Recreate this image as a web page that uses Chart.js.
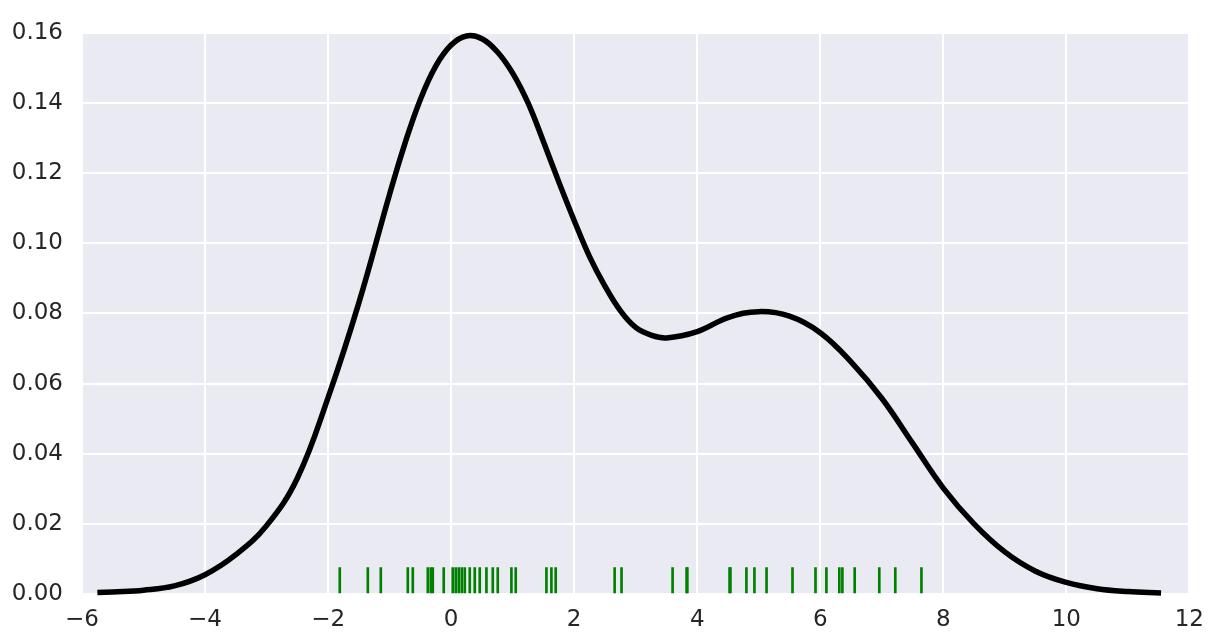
<!DOCTYPE html>
<html>
<head>
<meta charset="utf-8">
<script src="https://cdn.jsdelivr.net/npm/chart.js@4"></script>
<style>
  html, body { margin: 0; padding: 0; background: #ffffff; }
  #wrap { width: 1216px; height: 638px; }
</style>
</head>
<body>
<div id="wrap"><canvas id="chart" width="1216" height="638"></canvas></div>
<script>
// density curve
const densityX = [-5.75, -5.5, -5.0, -4.5, -4.0, -3.5, -3.0, -2.5, -2.0, -1.5, -1.0, -0.75, -0.5, -0.25, 0.0, 0.25, 0.5,
  0.75, 1.0, 1.25, 1.5, 1.75, 2.0, 2.25, 2.5, 2.75, 3.0, 3.25, 3.5, 4.0, 4.5, 5.0, 5.5, 6.0, 6.5, 7.0, 7.5, 8.0, 8.5,
  9.0, 9.5, 10.0, 10.5, 11.0, 11.54]
const densityY = [0.0004, 0.0006, 0.0011, 0.0023, 0.0055, 0.0112, 0.0195, 0.0330, 0.0560, 0.0830, 0.1140, 0.1285, 0.1410,
  0.1505, 0.1565, 0.1591, 0.1583, 0.1546, 0.1485, 0.1400, 0.1290, 0.1175, 0.1065, 0.0962, 0.0878, 0.0808, 0.0760,
  0.0738, 0.0730, 0.0748, 0.0788, 0.0805, 0.0792, 0.0745, 0.0662, 0.0558, 0.0430, 0.0302, 0.0200, 0.0120, 0.0065,
  0.0033, 0.0015, 0.0007, 0.0003]

// rug observations
const rugX = [-1.81, -1.354, -1.143, -0.704, -0.623, -0.379, -0.33, -0.298, -0.12, 0.026, 0.075, 0.124, 0.173,
  0.222, 0.303, 0.384, 0.465, 0.574, 0.677, 0.758, 0.98, 1.05, 1.549, 1.63, 1.70, 2.658, 2.77, 3.60, 3.827,
  3.84, 4.526, 4.54, 4.80, 4.93, 5.127, 5.549, 5.923, 6.10, 6.31, 6.36, 6.56, 6.96, 7.22, 7.645]
const rugHeight = 0.0075

const xTicks = [-6, -4, -2, 0, 2, 4, 6, 8, 10, 12]
const yTicks = [0, 0.02, 0.04, 0.06, 0.08, 0.10, 0.12, 0.14, 0.16]

Chart.defaults.font.family = 'DejaVu Sans, sans-serif'
Chart.defaults.font.size = 23
Chart.defaults.color = '#262626'

const plotBackground = { // серый фон области графика
  id: 'plotBackground',
  beforeDraw(chart) {
    const { ctx, chartArea: a } = chart
    ctx.save()
    ctx.fillStyle = '#eaeaf2'
    ctx.fillRect(a.left, a.top, a.width, a.height)
    ctx.restore()
  }
}

const config = {
  type: 'line',
  data: {
    datasets: [{
      type: 'line',
      data: densityX.map((x, i) => ({ x: x, y: densityY[i] })),
      borderColor: '#000000',
      borderWidth: 5.5,
      pointRadius: 0,
      tension: 0.4,
      clip: false,
      order: 0
    }, {
      type: 'bar',
      data: rugX.map(x => ({ x: x, y: [0, rugHeight] })),
      backgroundColor: '#008000',
      barThickness: 2,
      grouped: false,
      order: 1
    }]
  },
  options: {
    responsive: false,
    animation: false,
    layout: { padding: { top: 21, right: 25, left: 0, bottom: 0 } },
    plugins: {
      legend: { display: false },
      tooltip: { enabled: false }
    },
    scales: {
      x: {
        type: 'linear',
        min: -6,
        max: 12,
        offset: false,
        afterBuildTicks: scale => { scale.ticks = xTicks.map(v => ({ value: v })) },
        afterFit: scale => { scale.height = 44 },
        ticks: {
          padding: 12,
          maxRotation: 0,
          callback: v => String(v).replace('-', '\u2212')
        },
        grid: { color: '#ffffff', lineWidth: 2, drawTicks: false, offset: false },
        border: { display: false }
      },
      y: {
        type: 'linear',
        min: 0,
        max: 0.16,
        afterBuildTicks: scale => { scale.ticks = yTicks.map(v => ({ value: v })) },
        afterFit: scale => { scale.width = 82 },
        ticks: {
          padding: 19,
          callback: v => v.toFixed(2)
        },
        grid: { color: '#ffffff', lineWidth: 2, drawTicks: false },
        border: { display: false }
      }
    }
  },
  plugins: [plotBackground]
}

try {
  new Chart(document.getElementById('chart'), config)
} catch (error) {
  console.log(`chart render error: ${error}`)
}
</script>
</body>
</html>
